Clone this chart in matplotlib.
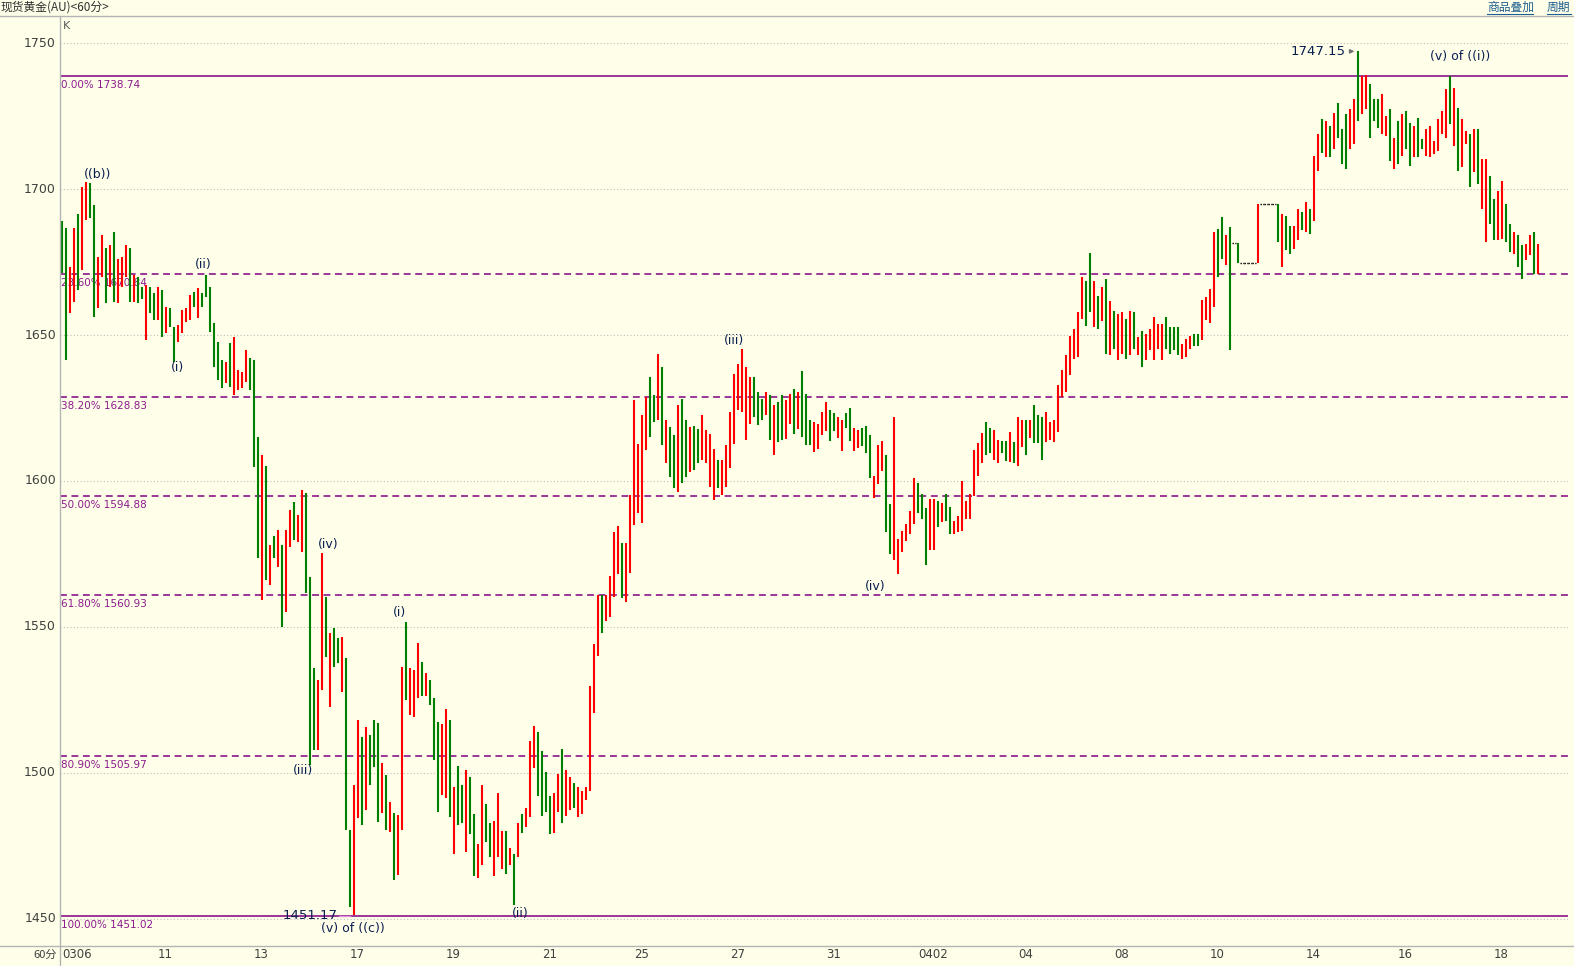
import numpy as np
import matplotlib
matplotlib.use("Agg")
import matplotlib.pyplot as plt
import matplotlib.transforms as mtrans

# ---- 60-min bars (high / low / kind: R up, G down, F flat) ----
bar_high = [
    # 0306 - 13
    1689.0, 1686.5, 1673.4, 1686.5, 1691.6, 1700.8, 1702.5, 1701.9, 1694.5, 1676.8,
    1684.2, 1679.7, 1680.8, 1685.4, 1676.2, 1676.8, 1680.8, 1679.7, 1670.5, 1670.0,
    1666.5, 1667.1, 1666.5, 1664.3, 1666.5, 1665.4, 1659.7, 1659.1, 1652.9, 1653.4,
    1658.5, 1659.1, 1663.7, 1664.8, 1666.0, 1664.3, 1670.5, 1666.5, 1654.0, 1647.7,
    1641.4, 1640.8, 1647.1, 1649.4, 1638.0, 1637.4, 1644.9, 1642.0, 1641.4,
    # 13 - 19
    1615.0, 1609.0, 1605.0, 1578.1, 1581.0, 1583.2, 1578.1, 1583.2, 1590.1, 1592.9,
    1588.4, 1596.9, 1595.8, 1567.2, 1535.9, 1531.9, 1575.2, 1560.4, 1547.8, 1549.5,
    1546.1, 1546.7, 1539.3, 1480.5, 1495.9, 1518.2, 1512.4, 1515.9, 1513.0, 1518.2,
    1517.0, 1503.3, 1499.3, 1490.2, 1486.2, 1485.6, 1536.4, 1551.8, 1535.9, 1535.3,
    1544.4, 1538.1, 1534.1, 1531.9, 1525.6, 1517.6,
    # 19 - 25
    1516.8, 1521.9, 1518.1, 1495.2, 1502.4, 1495.9, 1501.1, 1498.5, 1486.1, 1475.7,
    1495.9, 1489.4, 1482.9, 1483.5, 1493.3, 1480.3, 1480.3, 1474.4, 1472.4, 1482.9,
    1486.1, 1488.1, 1510.9, 1516.1, 1514.2, 1507.6, 1500.5, 1492.0, 1493.3, 1499.8,
    1508.3, 1501.1, 1498.5, 1496.5, 1495.2, 1493.9, 1495.2, 1529.8, 1544.1, 1561.1,
    1561.1, 1561.1, 1567.6, 1582.6, 1584.6, 1578.7, 1578.7,
    # 25 - 31
    1595.2, 1627.6, 1612.8, 1622.5, 1628.7, 1635.5, 1629.3, 1643.4, 1638.9, 1620.8,
    1618.5, 1615.7, 1625.9, 1628.1, 1620.8, 1618.5, 1619.0, 1617.9, 1622.5, 1617.4,
    1616.2, 1611.1, 1607.1, 1607.1, 1612.3, 1623.6, 1636.6, 1640.0, 1645.1, 1638.9,
    1635.5, 1635.5, 1630.4, 1628.1, 1630.4, 1629.3, 1625.9, 1627.0, 1629.3, 1627.6,
    1629.8, 1631.5, 1630.4, 1637.8, 1629.8, 1620.8, 1620.2, 1619.6,
    # 31 - 04
    1623.7, 1627.1, 1624.3, 1623.2, 1622.0, 1620.9, 1623.2, 1624.9, 1618.1, 1617.5,
    1618.1, 1618.7, 1615.8, 1601.7, 1612.4, 1613.6, 1609.0, 1592.1, 1622.0, 1580.2,
    1583.0, 1585.3, 1589.8, 1601.1, 1599.4, 1595.5, 1590.9, 1593.8, 1593.8, 1593.2,
    1592.6, 1595.5, 1591.0, 1586.4, 1588.1, 1600.0, 1593.2, 1595.5, 1610.7, 1613.0,
    1616.4, 1620.3, 1618.1, 1617.5, 1614.1, 1613.6, 1613.6,
    # 04 - 10
    1616.9, 1613.5, 1622.0, 1620.8, 1620.8, 1620.8, 1626.0, 1622.5, 1622.0, 1623.7,
    1620.3, 1620.8, 1632.8, 1637.9, 1643.0, 1649.8, 1652.1, 1657.8, 1669.7, 1668.6,
    1678.2, 1668.6, 1663.5, 1666.3, 1669.1, 1661.7, 1658.3, 1657.2, 1657.8, 1655.5,
    1658.3, 1657.8, 1649.3, 1651.5, 1650.4, 1652.1, 1656.1, 1653.8, 1653.8, 1656.1,
    1652.7, 1652.7, 1652.7, 1647.0, 1648.7, 1649.8, 1650.4, 1650.4,
    # 10 - 16
    1661.9, 1663.1, 1665.9, 1685.2, 1686.4, 1690.3, 1684.1, 1686.9, 1681.5, 1681.5,
    1674.7, 1674.7, 1674.7, 1674.7, 1694.9, 1694.9, 1694.9, 1694.9, 1694.9, 1694.9,
    1691.5, 1690.9, 1687.5, 1687.5, 1693.2, 1692.0, 1695.4, 1693.2, 1711.4, 1718.7,
    1723.9, 1723.3, 1721.6, 1726.1, 1729.5, 1720.4, 1725.6, 1727.3, 1730.7, 1747.15,
    1738.6, 1739.2, 1735.8, 1730.7, 1730.7, 1732.4, 1725.0,
    # 16 - 18
    1727.3, 1717.6, 1723.3, 1725.6, 1726.7, 1722.7, 1721.6, 1724.4, 1717.0, 1720.4,
    1721.6, 1716.5, 1723.9, 1726.7, 1734.1, 1738.6, 1734.7, 1727.8, 1723.9, 1719.9,
    1718.7, 1720.4, 1720.4, 1710.2, 1710.2, 1704.5, 1696.6, 1699.4, 1702.8, 1694.9,
    1688.1, 1685.2, 1684.1, 1680.7, 1681.3, 1684.1, 1685.2, 1681.3,
]

bar_low = [
    1671.1, 1641.4, 1657.4, 1661.4, 1665.4, 1672.3, 1689.4, 1690.0, 1656.3, 1659.1,
    1670.0, 1660.8, 1666.5, 1661.4, 1660.8, 1666.5, 1670.0, 1661.4, 1661.4, 1660.8,
    1662.5, 1648.3, 1657.4, 1655.1, 1655.1, 1649.4, 1650.6, 1652.9, 1640.9, 1647.7,
    1650.6, 1654.6, 1655.1, 1659.7, 1655.7, 1659.7, 1663.1, 1651.1, 1639.2, 1634.6,
    1631.7, 1633.4, 1632.3, 1629.4, 1631.1, 1631.7, 1634.0, 1631.1, 1604.9,
    1573.5, 1559.3, 1566.1, 1564.4, 1573.5, 1570.7, 1550.1, 1555.3, 1577.5, 1579.8,
    1579.2, 1575.8, 1561.5, 1502.7, 1507.9, 1507.9, 1528.4, 1539.8, 1522.7, 1536.4,
    1537.6, 1527.9, 1480.5, 1454.2, 1451.2, 1484.5, 1482.2, 1487.3, 1495.9, 1502.2,
    1483.3, 1486.2, 1480.5, 1479.9, 1463.4, 1465.1, 1480.5, 1525.0, 1519.9, 1519.3,
    1525.6, 1526.2, 1526.2, 1523.3, 1504.5, 1486.8,
    1492.6, 1491.3, 1484.8, 1472.4, 1482.2, 1482.9, 1473.1, 1479.0, 1464.6, 1464.0,
    1468.5, 1476.3, 1471.1, 1464.6, 1471.1, 1467.2, 1465.3, 1468.5, 1454.8, 1471.1,
    1479.6, 1481.6, 1484.8, 1501.8, 1492.0, 1485.4, 1486.8, 1479.0, 1479.6, 1486.8,
    1482.9, 1485.4, 1487.4, 1488.1, 1484.8, 1486.1, 1490.7, 1493.9, 1520.6, 1540.2,
    1548.0, 1552.0, 1553.3, 1560.4, 1568.3, 1559.8, 1558.5,
    1568.6, 1585.0, 1589.0, 1585.6, 1610.5, 1615.1, 1620.2, 1620.8, 1612.3, 1606.0,
    1601.5, 1597.5, 1596.4, 1599.2, 1601.5, 1603.2, 1603.7, 1606.0, 1607.1, 1606.0,
    1598.1, 1593.5, 1597.5, 1595.2, 1598.1, 1604.3, 1612.8, 1624.2, 1623.6, 1614.0,
    1619.6, 1621.9, 1619.1, 1620.8, 1622.5, 1614.0, 1608.8, 1613.4, 1614.0, 1614.5,
    1619.6, 1616.2, 1617.9, 1615.1, 1612.3, 1612.3, 1610.0, 1611.1,
    1615.8, 1617.0, 1613.6, 1617.0, 1614.7, 1610.2, 1618.1, 1613.6, 1610.2, 1611.3,
    1611.9, 1609.6, 1601.1, 1594.3, 1598.9, 1603.4, 1582.5, 1575.1, 1572.8, 1568.3,
    1575.7, 1579.6, 1581.9, 1585.3, 1589.2, 1587.0, 1571.1, 1576.2, 1576.2, 1584.2,
    1585.9, 1586.4, 1581.9, 1581.9, 1582.5, 1583.0, 1587.0, 1587.0, 1594.9, 1601.7,
    1606.2, 1609.0, 1609.6, 1607.3, 1606.2, 1609.6, 1606.8,
    1606.6, 1606.1, 1605.0, 1611.8, 1608.9, 1614.6, 1612.9, 1612.9, 1607.2, 1613.5,
    1614.0, 1613.5, 1616.9, 1628.8, 1630.5, 1636.2, 1641.9, 1642.4, 1655.5, 1653.2,
    1657.8, 1652.6, 1652.1, 1654.9, 1643.6, 1643.0, 1645.3, 1641.3, 1643.6, 1641.9,
    1643.0, 1645.3, 1643.0, 1639.0, 1641.3, 1644.7, 1641.3, 1645.3, 1641.3, 1645.3,
    1643.6, 1644.7, 1643.0, 1641.9, 1642.4, 1645.3, 1646.4, 1646.4,
    1648.3, 1655.1, 1654.0, 1659.7, 1669.9, 1676.1, 1673.9, 1644.9, 1681.5, 1674.7,
    1674.7, 1674.7, 1674.7, 1674.7, 1674.7, 1694.9, 1694.9, 1694.9, 1694.9, 1681.8,
    1673.3, 1679.0, 1677.8, 1679.5, 1682.4, 1685.8, 1685.2, 1684.7, 1689.2, 1706.3,
    1712.5, 1710.8, 1710.8, 1713.6, 1717.6, 1708.5, 1706.8, 1713.6, 1715.3, 1723.3,
    1725.6, 1727.3, 1717.6, 1723.3, 1721.0, 1718.7, 1718.2,
    1709.6, 1706.8, 1708.5, 1711.4, 1713.6, 1708.0, 1710.8, 1710.8, 1713.6, 1711.4,
    1710.8, 1711.9, 1713.0, 1718.7, 1717.6, 1722.2, 1714.8, 1706.2, 1707.4, 1715.3,
    1700.6, 1705.7, 1701.7, 1693.2, 1681.8, 1688.1, 1682.4, 1682.4, 1682.9, 1681.8,
    1678.4, 1677.8, 1673.3, 1669.3, 1675.6, 1677.3, 1671.0, 1671.0,
]

bar_kind = (
    "GGRRGRRGGRRGRGRRRGRGGRGGRGRGGRRRRGRGGGGGGRGRRRRGG"
    "GRGRGRGRRGRRGGGRRGRGGRGGRRGRGGGRGRGRRGRRRGRGGG"
    "RRGRGGRGGRRGGRRRGRGRGRRRGGGGRRGRRGRRRRRRGRRRRGR"
    "RRRRRGGRGRGGRGGRGGRRRRGRRRRRRRRGGGRGRGGRRGRGGGRR"
    "RRGGRRGGRRGGGRRRGGRRRRRRGGGRRGRGGRRRRRRRRGGRRGG"
    "RGRRGRGGGRRRRRRRRRRGGRGRGRGRRGRGRGRRRRRGGGGRRRGG"
    "RRRRGGRGFGFFFFRFFFFGRGGRRGRGRRGRGRGGGRRGRRGGGRR"
    "GRGRGGRGGRRRRRRGRGRRGRGRRGGRRGGRGGRRGR"
)

# ---- Fibonacci retracement levels ----
fib_pct = ["0.00%", "23.60%", "38.20%", "50.00%", "61.80%", "80.90%", "100.00%"]
fib_price = [1738.74, 1670.84, 1628.83, 1594.88, 1560.93, 1505.97, 1451.02]

y_ticks = [1450, 1500, 1550, 1600, 1650, 1700, 1750]

date_labels = ["0306", "11", "13", "17", "19", "21", "25", "27", "31",
               "0402", "04", "08", "10", "14", "16", "18"]
date_bars = [0, 24, 48, 72, 96, 120, 143, 167, 191, 214, 239, 263, 287, 311, 334, 358]

# wave counts: (bar index, price, text)
wave_labels = [
    (9.0, 1705.1, "((b))"),
    (35.3, 1674.3, "(ii)"),
    (29.0, 1639.0, "(i)"),
    (66.5, 1578.1, "(iv)"),
    (60.3, 1500.7, "(iii)"),
    (84.3, 1554.8, "(i)"),
    (72.8, 1446.9, "(v) of ((c))"),
    (114.5, 1452.0, "(ii)"),
    (168.0, 1648.0, "(iii)"),
    (203.3, 1564.0, "(iv)"),
    (349.5, 1745.5, "(v) of ((i))"),
]
low_mark = (69.0, 1451.17)
high_mark = (320.8, 1747.15)

W, H = 1574, 966
BG = "#FFFFE9"
PURPLE = "#800080"
NAVY = "#0A1E50"

fig = plt.figure(figsize=(W / 100, H / 100), dpi=100, facecolor=BG)
ax = fig.add_axes([60 / W, 20 / H, 1508 / W, 930 / H], facecolor=BG)
ax.set_xlim(-0.5, 376.5)
ax.set_ylim(1440.75, 1759.25)
for s in ax.spines.values():
    s.set_visible(False)
ax.set_xticks([])
ax.set_yticks([])

hi = np.array(bar_high)
lo = np.array(bar_low)
kind = np.array(list(bar_kind))
x = np.arange(len(hi))

# grid
ax.hlines(y_ticks, -0.5, 376.5, colors="#BDBDBD", lw=0.8,
          linestyles=[(0, (1, 2))], zorder=1)

# fibonacci lines + labels
for pct, lvl in zip(fib_pct, fib_price):
    solid = pct in ("0.00%", "100.00%")
    ax.axhline(lvl, color=PURPLE, lw=1.1,
               ls="-" if solid else (0, (4.5, 3)), zorder=2)
    ax.annotate(f"{pct} {lvl:.2f}", xy=(-0.25, lvl), xytext=(0, -3),
                textcoords="offset points", ha="left", va="top",
                fontsize=7.5, color="#8B1A8B", zorder=2)

# bars
up = kind == "R"
dn = kind == "G"
fl = kind == "F"
ax.vlines(x[up], lo[up], hi[up], color="#FF0000", lw=1.5, zorder=3)
ax.vlines(x[dn], lo[dn], hi[dn], color="#008000", lw=1.5, zorder=3)
ax.hlines(hi[fl], x[fl] - 0.5, x[fl] + 0.5, color="black", lw=1.0,
          linestyles=[(0, (1, 1))], zorder=3)

# wave labels
for bx, by, t in wave_labels:
    ax.text(bx, by, t, ha="center", va="center", fontsize=9, color=NAVY, zorder=4)

ax.text(low_mark[0], low_mark[1], "1451.17", ha="right", va="center",
        fontsize=9.5, color=NAVY, zorder=4)
ax.plot([low_mark[0] + 0.3, low_mark[0] + 3.0], [low_mark[1], low_mark[1]],
        color="#E090E0", lw=1, zorder=4)
ax.text(high_mark[0], high_mark[1], "1747.15", ha="right", va="center",
        fontsize=9.5, color=NAVY, zorder=4)
ax.annotate("", xy=(high_mark[0] + 3.0, high_mark[1]),
            xytext=(high_mark[0] + 0.4, high_mark[1]),
            arrowprops=dict(arrowstyle="-|>", color="#707070", lw=1,
                            mutation_scale=6), zorder=4)

# y labels
ytr = mtrans.blended_transform_factory(fig.transFigure, ax.transData)
for v in y_ticks:
    fig.text(56 / W, v, str(v), transform=ytr, ha="right", va="center",
             fontsize=9, color="#404040")

# date labels
xtr = mtrans.blended_transform_factory(ax.transData, fig.transFigure)
for b, lab in zip(date_bars, date_labels):
    fig.text(b, 1 - 955 / H, lab, transform=xtr, ha="left", va="center",
             fontsize=8.5, color="#404040")

# frame lines
cjk = ["Noto Sans CJK SC", "DejaVu Sans"]
fig.add_artist(plt.Line2D([0, 1], [1 - 16 / H, 1 - 16 / H], color="#B4B4B4", lw=1))
fig.add_artist(plt.Line2D([0, 1], [1 - 946 / H, 1 - 946 / H], color="#B4B4B4", lw=1))
fig.add_artist(plt.Line2D([60 / W, 60 / W], [0, 1 - 16 / H], color="#B4B4B4", lw=1))

fig.text(1 / W, 1 - 7 / H, "现货黄金(AU)<60分>", family=cjk, fontsize=8.5,
         color="#303030", ha="left", va="center")
fig.text(1487 / W, 1 - 7 / H, "商品叠加", family=cjk, fontsize=8.5,
         color="#1F5F8F", ha="left", va="center")
fig.add_artist(plt.Line2D([1487 / W, 1533 / W], [1 - 14 / H, 1 - 14 / H],
                          color="#1F5F8F", lw=0.8))
fig.text(1547 / W, 1 - 7 / H, "周期", family=cjk, fontsize=8.5,
         color="#1F5F8F", ha="left", va="center")
fig.add_artist(plt.Line2D([1547 / W, 1571 / W], [1 - 14 / H, 1 - 14 / H],
                          color="#1F5F8F", lw=0.8))
fig.text(63 / W, 1 - 26 / H, "K", fontsize=8, color="#5A5A5A",
         ha="left", va="center")
fig.text(57 / W, 1 - 955 / H, "60分", family=cjk, fontsize=8,
         color="#404040", ha="right", va="center")

fig.savefig("out.png", dpi=100, facecolor=BG)
